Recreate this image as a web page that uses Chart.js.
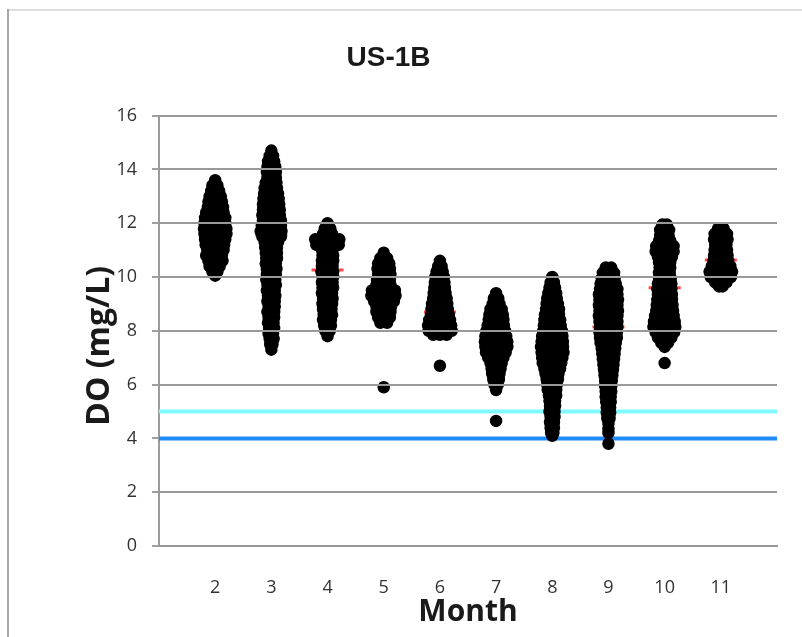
<!DOCTYPE html>
<html>
<head>
<meta charset="utf-8">
<title>US-1B</title>
<script src="https://cdn.jsdelivr.net/npm/chart.js@4.4.1/dist/chart.umd.min.js"></script>
<style>
    html, body { margin: 0; padding: 0; background: #fff; }
</style>
</head>
<body>
<canvas id="doChart" width="802" height="637"></canvas>
<script>
// Meses del eje X y marcas del eje Y
const months = [2, 3, 4, 5, 6, 7, 8, 9, 10, 11];
const yTicks = [0, 2, 4, 6, 8, 10, 12, 14, 16];
const yTitleText = 'DO (mg/L)';

// Lecturas de OD por mes: [valor, ...desplazamientos horizontales de cada punto]
const feb = [
    [13.6, 0], [13.4, -0.05, 0.04], [13.2, -0.07, 0, 0.07], [13.0, -0.1, 0, 0.1],
    [12.8, -0.12, 0, 0.12], [12.6, -0.13, 0, 0.14], [12.4, -0.16, 0, 0.15],
    [12.2, -0.18, 0, 0.18], [12.0, -0.19, 0, 0.18], [11.8, -0.2, 0, 0.2],
    [11.6, -0.19, 0, 0.2], [11.4, -0.18, 0, 0.18], [11.2, -0.17, 0, 0.16],
    [11.0, -0.14, 0, 0.15], [10.8, -0.16, 0, 0.12], [10.6, -0.12, 0, 0.13],
    [10.4, -0.1, 0, 0.08], [10.2, -0.05, 0.04], [10.05, 0]
];
const mar = [
    [14.7, 0], [14.5, -0.03, 0.03], [14.3, -0.06, 0.05], [14.1, -0.07, 0, 0.07],
    [13.9, -0.08, 0, 0.08], [13.7, -0.07, 0, 0.08], [13.5, -0.1, 0, 0.09],
    [13.3, -0.12, 0, 0.1], [13.1, -0.13, 0, 0.12], [12.9, -0.14, 0, 0.13],
    [12.7, -0.15, 0, 0.14], [12.5, -0.15, 0, 0.15], [12.3, -0.16, 0, 0.15],
    [12.1, -0.15, 0, 0.17], [11.9, -0.17, 0, 0.17], [11.7, -0.19, 0, 0.18],
    [11.5, -0.16, 0, 0.17], [11.3, -0.12, 0, 0.12], [11.1, -0.11, 0, 0.1],
    [10.9, -0.1, 0, 0.1], [10.7, -0.09, 0, 0.1], [10.5, -0.1, 0, 0.08],
    [10.3, -0.08, 0, 0.09], [10.1, -0.08, 0, 0.08], [9.9, -0.09, 0, 0.07],
    [9.7, -0.07, 0, 0.08], [9.5, -0.08, 0, 0.06], [9.3, -0.06, 0, 0.07],
    [9.1, -0.07, 0, 0.06], [8.9, -0.05, 0, 0.06], [8.7, -0.07, 0, 0.05],
    [8.5, -0.05, 0.05], [8.3, -0.06, 0.04], [8.1, -0.04, 0.05], [7.9, -0.05, 0.03],
    [7.7, -0.03, 0.04], [7.5, -0.02, 0.02], [7.3, 0]
];
const apr = [
    [12.0, 0], [11.8, -0.05, 0.05], [11.6, -0.08, 0, 0.08],
    [11.4, -0.22, -0.1, 0, 0.1, 0.21], [11.2, -0.2, -0.1, 0, 0.1, 0.2],
    [11.0, -0.1, 0, 0.09], [10.8, -0.09, 0, 0.1], [10.6, -0.1, 0, 0.1],
    [10.4, -0.1, 0, 0.09], [10.2, -0.11, 0, 0.1], [10.0, -0.09, 0, 0.1],
    [9.8, -0.1, 0, 0.09], [9.6, -0.09, 0, 0.1], [9.4, -0.1, 0, 0.08],
    [9.2, -0.08, 0, 0.09], [9.0, -0.09, 0, 0.08], [8.8, -0.08, 0, 0.07],
    [8.6, -0.07, 0, 0.08], [8.4, -0.08, 0, 0.06], [8.2, -0.06, 0, 0.06],
    [8.0, -0.04, 0.04], [7.8, 0]
];
const may = [
    [10.9, 0], [10.7, -0.06, 0.06], [10.5, -0.1, 0, 0.1], [10.3, -0.11, 0, 0.11],
    [10.1, -0.1, 0, 0.12], [9.9, -0.12, 0, 0.11], [9.7, -0.13, 0, 0.12],
    [9.5, -0.21, -0.1, 0, 0.1, 0.2], [9.3, -0.22, -0.1, 0, 0.1, 0.21],
    [9.1, -0.17, 0, 0.18], [8.9, -0.13, 0, 0.13], [8.7, -0.13, 0, 0.12],
    [8.5, -0.1, 0, 0.11], [8.3, -0.06, 0.06], [5.9, 0]
];
const jun = [
    [10.6, 0], [10.4, -0.03, 0.03], [10.2, -0.06, 0.05], [10.0, -0.08, 0, 0.07],
    [9.8, -0.09, 0, 0.08], [9.6, -0.1, 0, 0.09], [9.4, -0.11, 0, 0.1],
    [9.2, -0.12, 0, 0.12], [9.0, -0.14, 0, 0.13], [8.8, -0.15, 0, 0.14],
    [8.6, -0.16, 0, 0.16], [8.4, -0.19, 0, 0.18], [8.2, -0.21, -0.1, 0, 0.1, 0.2],
    [8.0, -0.2, -0.1, 0, 0.1, 0.21], [7.85, -0.12, 0, 0.12], [6.7, 0]
];
const jul = [
    [9.4, 0], [9.2, -0.04, 0.04], [9.0, -0.06, 0, 0.06], [8.8, -0.1, 0, 0.1],
    [8.6, -0.12, 0, 0.12], [8.4, -0.13, 0, 0.13], [8.2, -0.15, 0, 0.14],
    [8.0, -0.17, 0, 0.16], [7.8, -0.19, 0, 0.18], [7.6, -0.2, -0.1, 0, 0.1, 0.2],
    [7.4, -0.19, 0, 0.2], [7.2, -0.18, 0, 0.17], [7.0, -0.14, 0, 0.13],
    [6.8, -0.1, 0, 0.1], [6.6, -0.08, 0, 0.08], [6.4, -0.07, 0, 0.06],
    [6.2, -0.05, 0.05], [6.0, -0.03, 0.03], [5.8, 0], [4.65, 0]
];
const aug = [
    [10.0, 0], [9.8, -0.03, 0.03], [9.6, -0.05, 0.05], [9.4, -0.07, 0, 0.07],
    [9.2, -0.09, 0, 0.08], [9.0, -0.1, 0, 0.1], [8.8, -0.11, 0, 0.12],
    [8.6, -0.13, 0, 0.12], [8.4, -0.14, 0, 0.14], [8.2, -0.15, 0, 0.15],
    [8.0, -0.16, 0, 0.17], [7.8, -0.18, 0, 0.18], [7.6, -0.19, 0, 0.19],
    [7.4, -0.2, -0.1, 0, 0.1, 0.19], [7.2, -0.19, 0, 0.2], [7.0, -0.18, 0, 0.18],
    [6.8, -0.17, 0, 0.16], [6.6, -0.14, 0, 0.14], [6.4, -0.12, 0, 0.11],
    [6.2, -0.1, 0, 0.1], [6.0, -0.09, 0, 0.08], [5.8, -0.08, 0, 0.07],
    [5.6, -0.06, 0, 0.07], [5.4, -0.05, 0.05], [5.2, -0.04, 0.05],
    [5.0, -0.05, 0.04], [4.8, -0.03, 0.04], [4.6, -0.04, 0.03],
    [4.4, -0.03, 0.03], [4.2, -0.02, 0.02], [4.1, 0]
];
const sep = [
    [10.35, -0.05, 0.05], [10.15, -0.1, 0, 0.1], [9.95, -0.12, 0, 0.11],
    [9.75, -0.14, 0, 0.13], [9.55, -0.15, 0, 0.16], [9.35, -0.17, 0, 0.16],
    [9.15, -0.16, 0, 0.17], [8.95, -0.17, 0, 0.16], [8.75, -0.16, 0, 0.17],
    [8.55, -0.17, 0, 0.16], [8.35, -0.16, 0, 0.16], [8.15, -0.15, 0, 0.16],
    [7.95, -0.16, 0, 0.15], [7.75, -0.15, 0, 0.15], [7.55, -0.14, 0, 0.13],
    [7.35, -0.12, 0, 0.12], [7.15, -0.11, 0, 0.11], [6.95, -0.1, 0, 0.1],
    [6.75, -0.09, 0, 0.09], [6.55, -0.08, 0, 0.08], [6.35, -0.07, 0, 0.07],
    [6.15, -0.06, 0.06], [5.95, -0.06, 0.05], [5.75, -0.05, 0.05],
    [5.55, -0.05, 0.04], [5.35, -0.04, 0.04], [5.15, -0.03, 0.03],
    [4.95, -0.03, 0.03], [4.75, -0.02, 0.02], [4.55, 0], [4.35, 0], [4.2, 0],
    [3.8, 0]
];
const oct = [
    [11.95, -0.04, 0.04], [11.75, -0.08, 0, 0.08], [11.55, -0.08, 0, 0.07],
    [11.35, -0.1, 0, 0.1], [11.15, -0.15, 0, 0.16], [10.95, -0.16, 0, 0.16],
    [10.75, -0.12, 0, 0.13], [10.55, -0.1, 0, 0.1], [10.35, -0.09, 0, 0.1],
    [10.15, -0.1, 0, 0.09], [9.95, -0.1, 0, 0.11], [9.75, -0.12, 0, 0.12],
    [9.55, -0.13, 0, 0.12], [9.35, -0.12, 0, 0.13], [9.15, -0.13, 0, 0.13],
    [8.95, -0.14, 0, 0.14], [8.75, -0.15, 0, 0.15], [8.55, -0.17, 0, 0.16],
    [8.35, -0.19, 0, 0.18], [8.15, -0.2, -0.1, 0, 0.1, 0.19],
    [7.95, -0.16, 0, 0.17], [7.75, -0.12, 0, 0.12], [7.55, -0.06, 0.06],
    [7.4, 0], [6.8, 0]
];
const nov = [
    [11.8, -0.05, 0.05], [11.6, -0.11, 0, 0.11], [11.4, -0.12, 0, 0.12],
    [11.2, -0.1, 0, 0.1], [11.0, -0.11, 0, 0.11], [10.8, -0.12, 0, 0.12],
    [10.6, -0.13, 0, 0.13], [10.4, -0.16, 0, 0.17],
    [10.2, -0.2, -0.1, 0, 0.1, 0.2], [10.0, -0.18, 0, 0.18],
    [9.8, -0.1, 0, 0.1], [9.65, -0.03, 0.03]
];

// Promedio mensual (marcas rojas)
const meanDO = [11.75, 11.55, 10.26, 9.6, 8.7, 7.77, 7.6, 8.14, 9.6, 10.63];

// Límites de OD
const limitUpper = 5;
const limitLower = 4;

const monthRows = [feb, mar, apr, may, jun, jul, aug, sep, oct, nov];

const toPoints = (rows, month) =>
    rows.flatMap(([value, ...offsets]) => offsets.map(dx => ({ x: month + dx, y: value })));

const readings = months.flatMap((m, i) => toPoints(monthRows[i], m));
const means = months.map((m, i) => ({ x: m, y: meanDO[i] }));
const xMin = 1;
const xMax = 12;

const tickFont = { family: '"Open Sans", sans-serif', size: 18 };

// Cuadrícula horizontal: trazo normal encima al final, y luego se vuelven a pintar los datasets encima
const gridLines = {
    id: 'gridOnTop',
    afterDatasetsDraw(chart) {
        const { ctx, chartArea, scales: { y } } = chart;
        ctx.save();
        ctx.globalCompositeOperation = 'source-over';
        ctx.globalAlpha = 1;
        ctx.setLineDash([]);
        ctx.strokeStyle = '#999999';
        ctx.lineWidth = 2;
        yTicks.filter(v => v !== limitLower).forEach(v => {
            const py = Math.round(y.getPixelForValue(v));
            ctx.beginPath();
            ctx.moveTo(chartArea.left, py);
            ctx.lineTo(chartArea.right, py);
            ctx.stroke();
        });
        ctx.restore();
    }
};

// Marco exterior y título del eje Y
const decorations = {
    id: 'decorations',
    afterDraw(chart) {
        const { ctx, chartArea, width, height } = chart;
        ctx.save();
        ctx.fillStyle = '#dedede';
        ctx.fillRect(7, 9, width - 7, 2);
        ctx.fillStyle = '#a8a8a8';
        ctx.fillRect(7, 9, 2, height - 9);

        ctx.translate(100, (chartArea.top + chartArea.bottom) / 2 + 15);
        ctx.rotate(-Math.PI / 2);
        ctx.font = 'bold 32px "Open Sans", sans-serif';
        ctx.fillStyle = '#1a1a1a';
        ctx.textAlign = 'center';
        ctx.textBaseline = 'middle';
        ctx.fillText(yTitleText, 0, 0);
        ctx.restore();
    }
};

new Chart(document.getElementById('doChart'), {
    type: 'scatter',
    data: {
        datasets: [
            {
                label: 'DO',
                data: readings,
                pointStyle: 'circle',
                pointRadius: 5.5,
                backgroundColor: '#000',
                borderColor: '#000',
                borderWidth: 1.5,
                order: 1
            },
            {
                label: 'Media',
                data: means,
                pointStyle: 'line',
                pointRadius: 16,
                borderColor: '#ff4a4a',
                borderWidth: 3,
                order: 2
            },
            {
                type: 'line',
                label: '5 mg/L',
                data: [{ x: xMin, y: limitUpper }, { x: xMax, y: limitUpper }],
                borderColor: '#80fbff',
                backgroundColor: 'transparent',
                borderWidth: 4,
                pointRadius: 0,
                fill: false,
                order: 3
            },
            {
                type: 'line',
                label: '4 mg/L',
                data: [{ x: xMin, y: limitLower }, { x: xMax, y: limitLower }],
                borderColor: '#1e8cff',
                backgroundColor: 'transparent',
                borderWidth: 4,
                pointRadius: 0,
                fill: false,
                order: 3
            }
        ]
    },
    options: {
        responsive: false,
        animation: false,
        devicePixelRatio: 1,
        layout: { padding: { left: 0, right: 25, top: 0, bottom: 0 } },
        plugins: {
            legend: { display: false },
            tooltip: { enabled: false },
            title: {
                display: true,
                text: 'US-1B',
                color: '#1a1a1a',
                font: { family: '"Liberation Sans", Arial, sans-serif', size: 28, weight: 'bold' },
                padding: { top: 41, bottom: 41 }
            }
        },
        scales: {
            x: {
                type: 'linear',
                min: xMin,
                max: xMax,
                afterBuildTicks: scale => { scale.ticks = months.map(v => ({ value: v })); },
                afterFit: scale => { scale.height = 91; },
                grid: { display: false, drawTicks: false },
                border: { display: true, color: '#9c9c9c', width: 2 },
                ticks: { color: '#333', font: tickFont, padding: 31, maxRotation: 0 },
                title: {
                    display: true,
                    text: 'Month',
                    color: '#1a1a1a',
                    font: { family: '"Open Sans", sans-serif', size: 30, weight: 'bold' },
                    padding: { top: 0, bottom: 7 }
                }
            },
            y: {
                min: 0,
                max: 16,
                afterBuildTicks: scale => { scale.ticks = yTicks.map(v => ({ value: v })); },
                afterFit: scale => { scale.width = 159; },
                grid: { color: '#a0a0a0', lineWidth: 2, tickLength: 7, drawOnChartArea: false },
                border: { display: true, color: '#9c9c9c', width: 2 },
                ticks: { color: '#333', font: tickFont, padding: 15 }
            }
        }
    },
    plugins: [gridLines, decorations]
});
</script>
</body>
</html>
